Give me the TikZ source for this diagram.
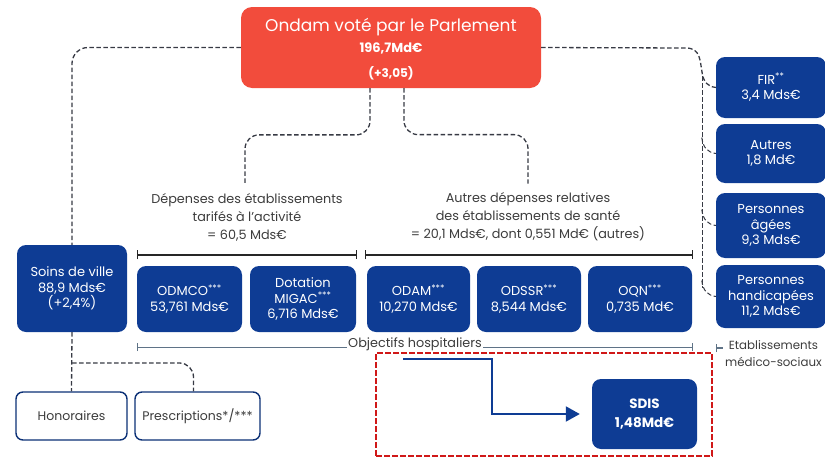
\documentclass[tikz,border=0pt]{standalone}
\usepackage{fontspec}
\setmainfont{Poppins}
\usetikzlibrary{arrows.meta,calc}
\definecolor{navy}{RGB}{14,60,148}
\definecolor{ondamred}{RGB}{242,76,60}
\definecolor{conngray}{RGB}{55,58,68}
\definecolor{slate}{RGB}{95,115,135}
\definecolor{txtgray}{RGB}{60,60,60}
\definecolor{framered}{RGB}{208,24,24}
\begin{document}
\begin{tikzpicture}[x=1pt,y=-1pt,
  bluebox/.style={fill=navy, text=white, rounded corners=9pt, align=center, inner sep=0pt,
    font=\fontsize{13}{15.5}\selectfont},
  whitebox/.style={fill=white, draw=navy!80!black, line width=1.4pt, rounded corners=7pt, align=center,
    inner sep=0pt, text=txtgray, font=\fontsize{12.5}{14}\selectfont},
  conn/.style={draw=conngray, line width=1.3pt, dash pattern=on 4.5pt off 2.5pt},
  lbl/.style={align=center, text=txtgray, font=\fontsize{12.8}{18}\selectfont, inner sep=0pt},
  bracket/.style={draw=black!85, line width=1.6pt, {Bar[width=9pt]}-{Bar[width=9pt]}},
]
\useasboundingbox (0,0) rectangle (825,458);

% top red box
\node[fill=ondamred, rounded corners=11pt, minimum width=300pt, minimum height=81pt, inner sep=0pt] (ondam) at (391,47.5) {};
\node[text=white, font=\fontsize{17}{19}\selectfont] (t1) at (391,27) {Ondam voté par le Parlement};
\node[text=white, font=\bfseries\fontsize{13}{15}\selectfont] (t2) at (391,48) {196,7Md€};
\node[text=white, font=\bfseries\fontsize{12}{14}\selectfont] (t3) at (391,73) {(+3,05)};

% middle row
\node[bluebox, minimum width=110pt, minimum height=87pt] (soins) at (72,288.5) {Soins de ville\\88,9 Mds€\\(+2,4\%)};
\node[bluebox, minimum width=105pt, minimum height=66pt] (odmco) at (189.5,299) {ODMCO\textsuperscript{***}\\53,761 Mds€};
\node[bluebox, minimum width=106pt, minimum height=66pt] (migac) at (303,299) {Dotation\\MIGAC\textsuperscript{***}\\6,716 Mds€};
\node[bluebox, minimum width=103pt, minimum height=66pt] (odam) at (418.5,299) {ODAM\textsuperscript{***}\\10,270 Mds€};
\node[bluebox, minimum width=104pt, minimum height=66pt] (odssr) at (529,299) {ODSSR\textsuperscript{***}\\8,544 Mds€};
\node[bluebox, minimum width=104pt, minimum height=66pt] (oqn) at (640,299) {OQN\textsuperscript{***}\\0,735 Md€};

% right column
\node[bluebox, minimum width=110pt, minimum height=61pt] (fir) at (771,87.5) {FIR\textsuperscript{**}\\3,4 Mds€};
\node[bluebox, minimum width=110pt, minimum height=59pt] (autres) at (771,153.5) {Autres\\1,8 Md€};
\node[bluebox, minimum width=110pt, minimum height=65pt] (agees) at (771,225.5) {Personnes\\âgées\\9,3 Mds€};
\node[bluebox, minimum width=110pt, minimum height=63pt] (handi) at (771,296.5) {Personnes\\handicapées\\11,2 Mds€};

% bottom boxes
\node[whitebox, minimum width=111pt, minimum height=48pt] (hono) at (71.5,416) {Honoraires};
\node[whitebox, minimum width=125pt, minimum height=48pt] (presc) at (197.5,416) {Prescriptions*/***};

% labels
\node[lbl] (dep) at (247,217) {Dépenses des établissements\\tarifés à l'activité\\= 60,5 Mds€};
\node[lbl] (aut) at (528,217) {Autres dépenses relatives\\des établissements de santé\\= 20,1 Mds€, dont 0,551 Md€ (autres)};

% brackets
\draw[bracket] ($(odmco.north west)+(0,-11)$) -- ($(migac.north east)+(1,-11)$);
\draw[bracket] ($(odam.north west)+(-2,-11)$) -- ($(oqn.north east)+(1,-11)$);

% objectifs hospitaliers
\coordinate (oh1) at ($(odmco.south west)+(0,15)$);
\coordinate (oh2) at ($(oqn.south east)+(1,15)$);
\draw[draw=slate, line width=1.3pt, {Bar[width=8pt]}-{Bar[width=8pt]}] (oh1) -- (oh2);
\node[fill=white, text=txtgray, font=\fontsize{12.8}{14}\selectfont, inner sep=1.5pt] (ohl) at (415,344) {Objectifs hospitaliers};

% etablissements medico-sociaux
\coordinate (ems1) at (716,348);
\coordinate (ems2) at (723,348);
\draw[draw=slate, line width=1.3pt, {Bar[width=8pt]}-] (ems1) -- (ems2);
\node[text=txtgray, align=center, font=\fontsize{11.8}{17}\selectfont, inner sep=0pt, anchor=north west] (ems) at (725,340) {Etablissements\\médico-sociaux};

% dashed connectors from ondam
\draw[conn, rounded corners=16pt] (ondam.west) -| (soins.north);
\draw[conn] (ondam.east) -- (686,48) .. controls (701,48) and (700,62) .. (702,72) .. controls (703,82) and (709,87.5) .. (fir.west);
\coordinate (vtop) at (702,76);
\coordinate (vbot) at (702,288);
\draw[conn, line width=1pt] (vtop) -- (vbot);
\draw[conn, line width=1pt] ($(autres.west)+(-14,-16)$) .. controls ($(autres.west)+(-13,-6)$) and ($(autres.west)+(-8,-1)$) .. (autres.west);
\draw[conn, line width=1pt] ($(agees.west)+(-14,-16)$) .. controls ($(agees.west)+(-13,-6)$) and ($(agees.west)+(-8,-1)$) .. (agees.west);
\draw[conn, line width=1pt] ($(handi.west)+(-14,-16)$) .. controls ($(handi.west)+(-13,-6)$) and ($(handi.west)+(-8,-1)$) .. (handi.west);

\coordinate (dl) at ($(ondam.south)+(-21,0)$);
\coordinate (dr) at ($(ondam.south)+(13,0)$);
\coordinate (dlend) at ($(dep.north)+(-2,-9)$);
\coordinate (drend) at ($(aut.north)+(0,-9)$);
\draw[conn, rounded corners=14pt] (dl) |- ($(dlend)+(0,-49)$) -- (dlend);
\draw[conn, rounded corners=14pt] (dr) |- ($(drend)+(0,-49)$) -- (drend);

% bottom connectors
\draw[conn] (soins.south) -- (hono.north);
\coordinate (pb) at (72,363);
\draw[conn, rounded corners=14pt] (pb) -| ($(presc.north)+(-4,0)$);

% SDIS frame and arrow
\node[draw=framered, line width=1.6pt, dash pattern=on 6pt off 2pt, minimum width=336pt, minimum height=103pt, inner sep=0pt] (frame) at (544,404.5) {};
\node[bluebox, minimum width=105pt, minimum height=70pt, font=\bfseries\fontsize{13.5}{19}\selectfont] (sdis) at (644.5,414) {SDIS\\1,48Md€};
\coordinate (as) at (403,359);
\draw[navy, line width=2pt, -{Triangle[length=14pt,width=15pt]}, shorten >=12pt] (as) -| ($(sdis.west)+(-100,0)$) -- (sdis.west);
\end{tikzpicture}
\end{document}
